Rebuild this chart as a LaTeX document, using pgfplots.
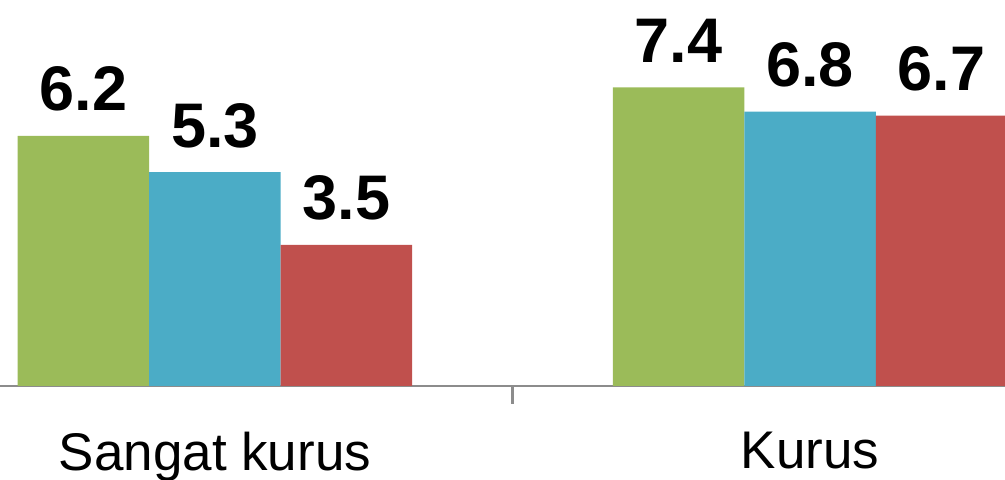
\documentclass[border=0pt]{standalone}
\usepackage{fontspec}
\setmainfont{Liberation Sans}
\usepackage{pgfplots}
\pgfplotsset{compat=1.18}

\definecolor{barGreen}{HTML}{9BBB59}
\definecolor{barBlue}{HTML}{4BACC6}
\definecolor{barRed}{HTML}{C0504D}
\definecolor{axisGray}{HTML}{8C8C8C}

\begin{document}
\begin{tikzpicture}
\begin{axis}[
  scale only axis,
  width=502.5pt, height=193pt,
  xmin=-0.3613, xmax=1.3277,
  ymin=0, ymax=9.566,
  axis x line*=bottom, axis y line=none,
  x axis line style={draw=axisGray, line width=1pt},
  ybar=0pt, bar width=0.221,
  xtick={0,1}, xticklabels={Sangat kurus, Kurus},
  major tick length=0pt,
  tick align=outside,
  every tick/.append style={draw=axisGray, line width=1.1pt},
  extra x ticks={0.5}, extra x tick labels={},
  extra x tick style={major tick length=9pt, tick align=outside},
  xticklabel style={font=\fontsize{26.5}{30}\selectfont, inner sep=0pt, yshift=-23pt},
  /pgf/number format/assume math mode=true,
  /pgf/number format/fixed, /pgf/number format/precision=1,
  nodes near coords,
  every node near coord/.append style={font=\fontsize{31.5}{36}\selectfont\bfseries,
    inner sep=0pt, yshift=12pt, text=black},
]
% Sangat kurus / Kurus
\addplot[fill=barGreen, draw=none] coordinates {(0,6.2) (1,7.4)};
\addplot[fill=barBlue,  draw=none] coordinates {(0,5.3) (1,6.8)};
\addplot[fill=barRed,   draw=none] coordinates {(0,3.5) (1,6.7)};
\end{axis}
\pgfresetboundingbox
\path[use as bounding box] ([yshift=-47pt]current axis.south west) rectangle (current axis.north east);
\end{tikzpicture}
\end{document}
